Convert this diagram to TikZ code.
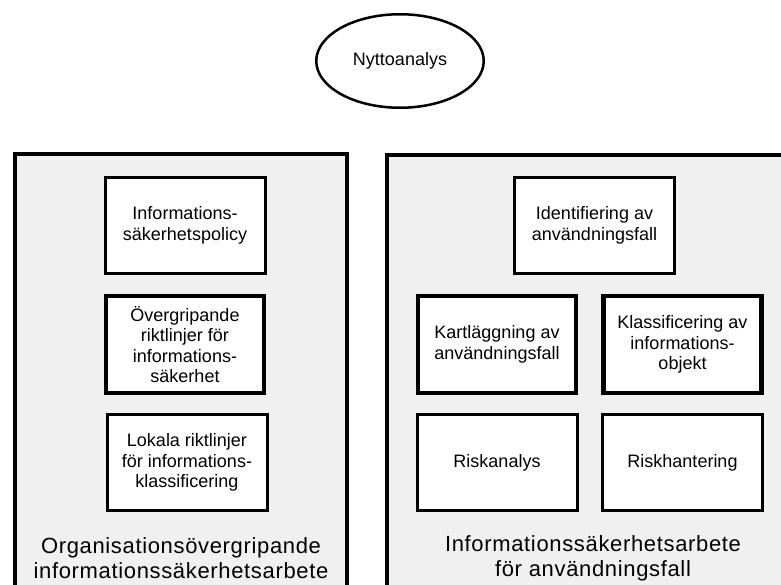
\documentclass[tikz,border=0pt]{standalone}
\usepackage{fontspec}
\setmainfont{Liberation Sans}
\newfontfamily\titlefont[LetterSpace=3]{Liberation Sans}
\usepackage{xcolor}
\usetikzlibrary{shapes.geometric}

\definecolor{panelgray}{gray}{0.94}

\tikzset{
  panel/.style={draw=black, line width=4pt, fill=panelgray},
  task/.style={draw=black, line width=3pt, fill=white,
    minimum width=160pt, minimum height=96pt, inner sep=2pt,
    align=center, font=\fontsize{18}{20.5}\selectfont},
  keytask/.style={task, line width=4.5pt,
    minimum width=158pt, minimum height=97pt},
  paneltitle/.style={align=center, inner sep=0pt,
    font=\titlefont\fontsize{22}{25}\selectfont}
}

\begin{document}
\begin{tikzpicture}[x=1pt,y=-1pt]
\def\lx{185}     
\def\rx{497}
\def\rxx{682.5}
\def\ya{225.5}
\def\yb{344.5}
\def\yc{462.5}

\useasboundingbox (0,0) rectangle (781,584);

% the two panels
\draw[panel] (15,154) rectangle (347,610);
\draw[panel] (387,155) rectangle (815,610);

\node[ellipse, draw, line width=2.5pt, fill=white,
      minimum width=167.5pt, minimum height=93.5pt,
      font=\fontsize{18}{20}\selectfont] (nytta) at (400,61) {Nyttoanalys};

% left panel
\node[task] (policy) at (\lx,\ya) {Informations-\\säkerhetspolicy};
\node[keytask] (riktlinjer) at (\lx,\yb) {Övergripande\\riktlinjer för\\informations-\\säkerhet};
\node[task] (lokala) at (\lx+2,\yc) {Lokala riktlinjer\\för informations-\\klassificering};
\node[paneltitle] (orgtitel) at (181,558) {Organisationsövergripande\\informationssäkerhetsarbete};

% right panel
\node[task] (identifiering) at (594.5,\ya) {Identifiering av\\användningsfall};
\node[keytask] (kartlaggning) at (\rx,\yb) {Kartläggning av\\användningsfall};
\node[keytask] (klassning) at (\rxx,\yb) {Klassificering av\\informations-\\objekt};
\node[task] (riskanalys) at (\rx,\yc) {Riskanalys};
\node[task] (riskhantering) at (\rxx,\yc) {Riskhantering};
\node[paneltitle] (falltitel) at (593,558) {Informationssäkerhetsarbete\\för användningsfall};
\end{tikzpicture}
\end{document}
